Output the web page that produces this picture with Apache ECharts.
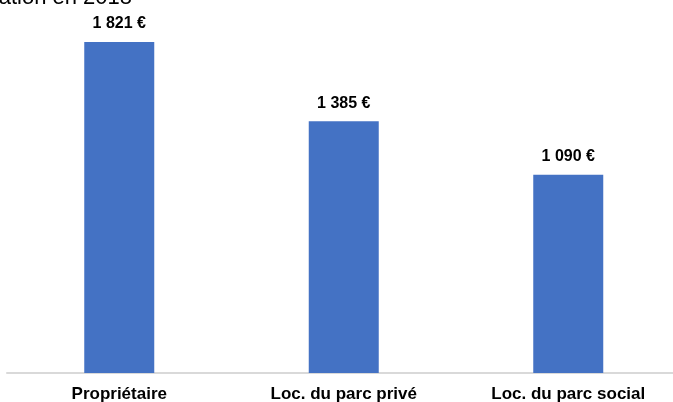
<!DOCTYPE html>
<html><head><meta charset="utf-8">
<script src="https://cdn.jsdelivr.net/npm/echarts@6/dist/echarts.min.js"></script>
<style>html,body{margin:0;padding:0;background:#fff}#c{width:673px;height:402px}</style>
</head><body><div id="c"></div>
<script>
const categories = ['Propriétaire', 'Loc. du parc privé', 'Loc. du parc social'];
const values = [1821, 1385, 1090];
const valueLabels = ['1 821 €', '1 385 €', '1 090 €'];
const titleText = "Dépense moyenne selon le statut d'occupation en 2018";

const chart = echarts.init(document.getElementById('c'), null, {renderer: 'canvas'});
chart.setOption({
  animation: false,
  graphic: [{
    type: 'text', right: 541, top: -13,
    style: {text: titleText, font: '22px "Liberation Sans", Arial, sans-serif', fill: '#000'}
  }],
  grid: {left: 7, width: 673.5, top: 9.4, bottom: 29, containLabel: false, outerBoundsMode: 'none'},
  xAxis: {
    type: 'category', data: categories,
    axisLine: {show: true, lineStyle: {color: '#d9d9d9', width: 2}},
    axisTick: {show: false},
    axisLabel: {color: '#000', fontWeight: 'bold', fontSize: 17, fontFamily: '"Liberation Sans", Arial, sans-serif', margin: 13, interval: 0}
  },
  yAxis: {type: 'value', min: 0, max: 2000, show: false, splitLine: {show: false}},
  series: [{
    type: 'bar', data: values, barWidth: 70,
    itemStyle: {color: '#4472C4'},
    label: {
      show: true, position: 'top', distance: 10,
      formatter: p => valueLabels[p.dataIndex],
      color: '#000', fontWeight: 'bold', fontSize: 16, fontFamily: '"Liberation Sans", Arial, sans-serif'
    }
  }]
});
</script></body></html>
